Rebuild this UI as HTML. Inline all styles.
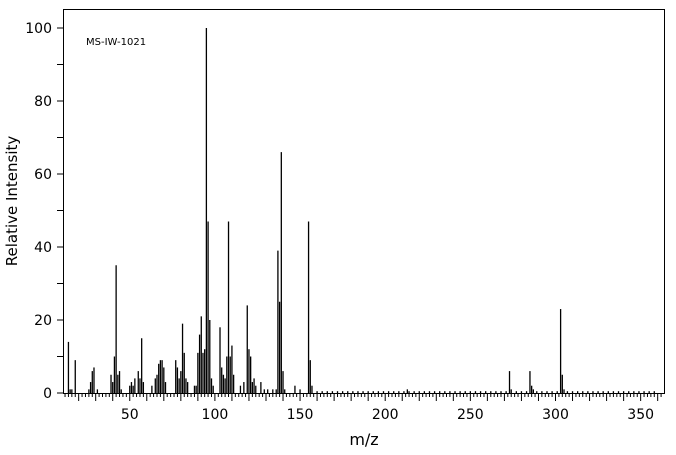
<!DOCTYPE html>
<html><head><meta charset="utf-8"><style>
html,body{margin:0;padding:0;background:#fff;}
svg{display:block;}
text{font-family:"DejaVu Sans","Liberation Sans",sans-serif;fill:#000;}
</style></head><body>
<svg id="s" width="676" height="455" xmlns="http://www.w3.org/2000/svg">
<rect x="63.5" y="9.5" width="601" height="384" fill="none" stroke="#000" stroke-width="1"/>
<text x="86" y="45" font-size="10" font-family="Liberation Mono,monospace">MS-IW-1021</text>
<text transform="translate(17,201) rotate(-90)" font-size="15" text-anchor="middle">Relative Intensity</text>
<text x="364" y="445" font-size="16" text-anchor="middle">m/z</text>
<g id="g" stroke="#000" stroke-width="1.3"></g>
</svg>
<script>
var g=document.getElementById('g'),s=document.getElementById('s');
function X(m){return 44.6+1.703*m;}
function Y(i){return 393-3.65*i;}
var h='';
// y ticks
for(var v=0;v<=100;v+=10){var y=Y(v);h+='<line x1="57" x2="63" y1="'+y+'" y2="'+y+'" stroke-width="1"/>';}
// x ticks
for(var m=12;m<=362;m+=2){var x=X(m);var L=(m%10==0)?8:4;h+='<line x1="'+x+'" x2="'+x+'" y1="393" y2="'+(393+L)+'" stroke-width="1"/>';}
var p=[[14,14],[15,1],[16,1],[18,9],[26,1],[27,3],[28,6],[29,7],[31,1],[39,5],[40,3],[41,10],[42,35],[43,5],[44,6],[45,1],[50,2],[51,3],[52,2],[53,4],[55,6],[56,4],[57,15],[58,3],[63,2],[65,4],[66,5],[67,8],[68,9],[69,9],[70,7],[71,3],[77,9],[78,7],[79,4],[80,6],[81,19],[82,11],[83,4],[84,3],[88,2],[89,2],[90,11],[91,16],[92,21],[93,11],[94,12],[95,100],[96,47],[97,20],[98,4],[99,2],[103,18],[104,7],[105,5],[106,4],[107,10],[108,47],[109,10],[110,13],[111,5],[115,2],[117,3],[119,24],[120,12],[121,10],[122,3],[123,4],[124,2],[127,3],[129,1],[131,1],[134,1],[136,1],[137,39],[138,25],[139,66],[140,6],[141,1],[147,2],[150,1],[155,47],[156,9],[157,2],[213,1],[273,6],[274,1],[285,6],[286,2],[287,1],[303,23],[304,5],[305,1]];
var have={};p.forEach(function(a){have[a[0]]=1;});
for(var m=160;m<=358;m+=(m%3==0?2:3)){if(!have[m])p.push([m,0.5]);}
p.forEach(function(a){var x=X(a[0]);h+='<line x1="'+x+'" x2="'+x+'" y1="393" y2="'+Y(a[1])+'"/>';});
g.innerHTML=h;
var t='';
[0,20,40,60,80,100].forEach(function(v){t+='<text x="52" y="'+(Y(v)+5)+'" font-size="14" text-anchor="end">'+v+'</text>';});
[50,100,150,200,250,300,350].forEach(function(v){t+='<text x="'+X(v)+'" y="419" font-size="14" text-anchor="middle">'+v+'</text>';});
s.insertAdjacentHTML('beforeend',t);
</script>
</body></html>
